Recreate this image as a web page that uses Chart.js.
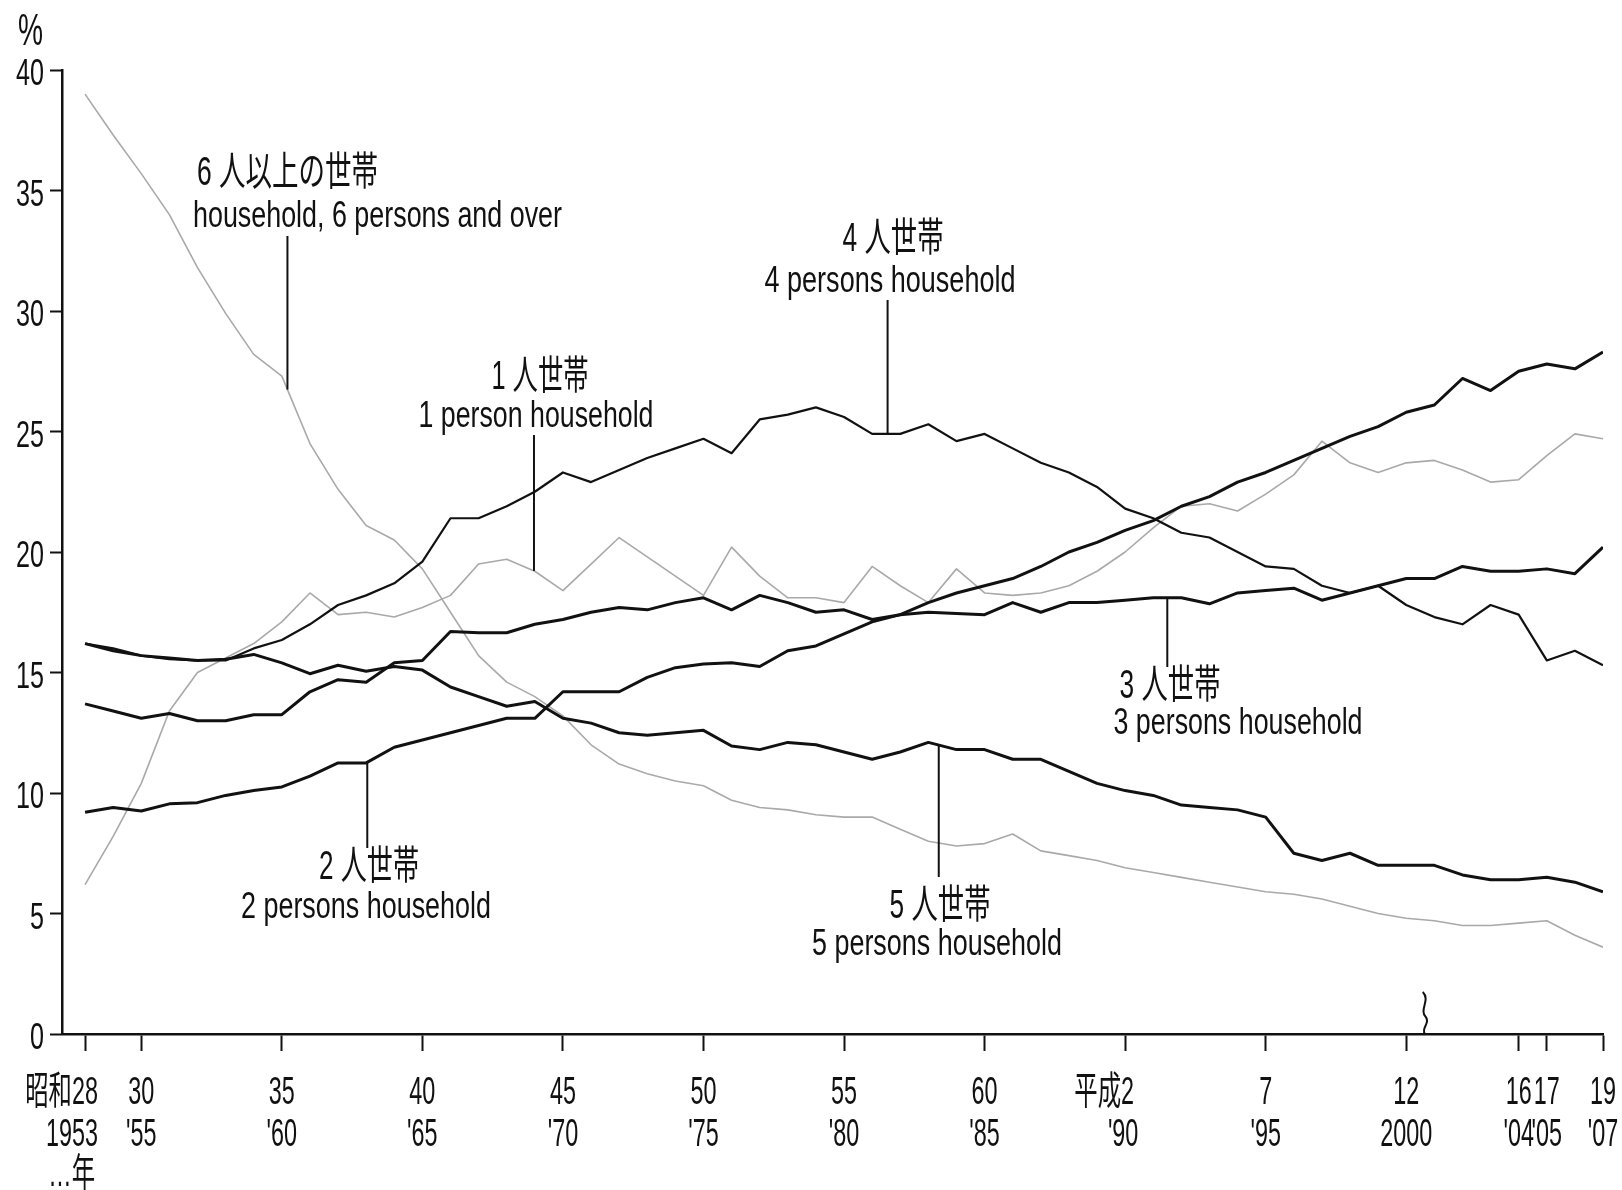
<!DOCTYPE html>
<html lang="ja">
<head>
<meta charset="utf-8">
<title>世帯人員別にみた世帯数の構成割合の年次推移</title>
<script src="https://cdn.jsdelivr.net/npm/chart.js@4.4.1/dist/chart.umd.min.js"></script>
<style>
  html, body { margin: 0; padding: 0; background: #fff; }
  #wrap { width: 1622px; height: 1190px; }
</style>
</head>
<body>
<div id="wrap"><canvas id="chart" width="1622" height="1190"></canvas></div>
<script>
// 世帯人員別 構成割合 (%), 昭和28(1953)〜平成19(2007)
const years = [1953, 1954, 1955, 1956, 1957, 1958, 1959, 1960, 1961, 1962,
               1963, 1964, 1965, 1966, 1967, 1968, 1969, 1970, 1971, 1972,
               1973, 1974, 1975, 1976, 1977, 1978, 1979, 1980, 1981, 1982,
               1983, 1984, 1985, 1986, 1987, 1988, 1989, 1990, 1991, 1992,
               1993, 1994, 1995, 1996, 1997, 1998, 1999, 2000, 2001, 2002,
               2003, 2004, 2005, 2006, 2007];

const onePerson = [6.2, 8.2, 10.4, 13.4, 15.0, 15.6, 16.2, 17.1, 18.3, 17.4,
                   17.5, 17.3, 17.7, 18.2, 19.5, 19.7, 19.2, 18.4, 19.5, 20.6,
                   19.8, 19.0, 18.2, 20.2, 19.0, 18.1, 18.1, 17.9, 19.4, 18.6,
                   17.9, 19.3, 18.3, 18.2, 18.3, 18.6, 19.2, 20.0, 21.0, 21.9,
                   22.0, 21.7, 22.4, 23.2, 24.6, 23.7, 23.3, 23.7, 23.8, 23.4,
                   22.9, 23.0, 24.0, 24.9, 24.7];

const twoPersons = [9.2, 9.4, 9.25, 9.55, 9.6, 9.9, 10.1, 10.25, 10.7, 11.25,
                    11.25, 11.9, 12.2, 12.5, 12.8, 13.1, 13.1, 14.2, 14.2, 14.2,
                    14.8, 15.2, 15.35, 15.4, 15.25, 15.9, 16.1, 16.6, 17.1, 17.4,
                    17.9, 18.3, 18.6, 18.9, 19.4, 20.0, 20.4, 20.9, 21.3, 21.9,
                    22.3, 22.9, 23.3, 23.8, 24.3, 24.8, 25.2, 25.8, 26.1, 27.2,
                    26.7, 27.5, 27.8, 27.6, 28.3];

const threePersons = [13.7, 13.4, 13.1, 13.3, 13.0, 13.0, 13.25, 13.25, 14.2, 14.7,
                      14.6, 15.4, 15.5, 16.7, 16.65, 16.65, 17.0, 17.2, 17.5, 17.7,
                      17.6, 17.9, 18.1, 17.6, 18.2, 17.9, 17.5, 17.6, 17.2, 17.4,
                      17.5, 17.45, 17.4, 17.9, 17.5, 17.9, 17.9, 18.0, 18.1, 18.1,
                      17.85, 18.3, 18.4, 18.5, 18.0, 18.3, 18.6, 18.9, 18.9, 19.4,
                      19.2, 19.2, 19.3, 19.1, 20.2];

const fourPersons = [16.2, 16.0, 15.7, 15.55, 15.5, 15.5, 16.0, 16.35, 17.0, 17.8,
                     18.2, 18.7, 19.6, 21.4, 21.4, 21.9, 22.5, 23.3, 22.9, 23.4,
                     23.9, 24.3, 24.7, 24.1, 25.5, 25.7, 26.0, 25.6, 24.9, 24.9,
                     25.3, 24.6, 24.9, 24.3, 23.7, 23.3, 22.7, 21.8, 21.4, 20.8,
                     20.6, 20.0, 19.4, 19.3, 18.6, 18.3, 18.6, 17.8, 17.3, 17.0,
                     17.8, 17.4, 15.5, 15.9, 15.3];

const fivePersons = [16.2, 15.9, 15.7, 15.6, 15.5, 15.55, 15.75, 15.4, 14.95, 15.3,
                     15.05, 15.25, 15.1, 14.4, 14.0, 13.6, 13.8, 13.1, 12.9, 12.5,
                     12.4, 12.5, 12.6, 11.95, 11.8, 12.1, 12.0, 11.7, 11.4, 11.7,
                     12.1, 11.8, 11.8, 11.4, 11.4, 10.9, 10.4, 10.1, 9.9, 9.5,
                     9.4, 9.3, 9.0, 7.5, 7.2, 7.5, 7.0, 7.0, 7.0, 6.6,
                     6.4, 6.4, 6.5, 6.3, 5.9];

const sixPlus = [39.0, 37.3, 35.7, 34.0, 31.8, 29.9, 28.2, 27.3, 24.5, 22.6,
                 21.1, 20.5, 19.3, 17.5, 15.7, 14.6, 14.0, 13.2, 12.0, 11.2,
                 10.8, 10.5, 10.3, 9.7, 9.4, 9.3, 9.1, 9.0, 9.0, 8.5,
                 8.0, 7.8, 7.9, 8.3, 7.6, 7.4, 7.2, 6.9, 6.7, 6.5,
                 6.3, 6.1, 5.9, 5.8, 5.6, 5.3, 5.0, 4.8, 4.7, 4.5,
                 4.5, 4.6, 4.7, 4.1, 3.6];

// 目盛
const tickYears   = [1953, 1955, 1960, 1965, 1970, 1975, 1980, 1985, 1990, 1995, 2000, 2004, 2005, 2007];
const tickEra     = ['昭和28', '30', '35', '40', '45', '50', '55', '60', '平成2', '7', '12', '16', '17', '19'];
const tickWestern = ['1953', "'55", "'60", "'65", "'70", "'75", "'80", "'85", "'90", "'95", '2000', "'04", "'05", "'07"];
const yTicks      = [0, 5, 10, 15, 20, 25, 30, 35, 40];

// 系列ラベル (引き出し線つき)
const notes = [
  { data: sixPlus,      year: 1960.2,  jp: '6 人以上の世帯', en: 'household, 6 persons and over',
    jpX: 197, jpY: 185, jpW: 181, enX: 193, enY: 227, enW: 369, align: 'left', lineTop: 236 },
  { data: fourPersons,  year: 1981.55, jp: '4 人世帯', en: '4 persons household',
    jpX: 893, jpY: 251, jpW: 101, enX: 890, enY: 292, enW: 251, align: 'center', lineTop: 300 },
  { data: onePerson,    year: 1968.97, jp: '1 人世帯', en: '1 person household',
    jpX: 540, jpY: 389, jpW: 97, enX: 536, enY: 427, enW: 235, align: 'center', lineTop: 435 },
  { data: threePersons, year: 1991.5,  jp: '3 人世帯', en: '3 persons household',
    jpX: 1170, jpY: 698, jpW: 101, enX: 1238, enY: 734, enW: 249, align: 'center', lineBottom: 667 },
  { data: twoPersons,   year: 1963.04, jp: '2 人世帯', en: '2 persons household',
    jpX: 369, jpY: 879, jpW: 100, enX: 366, enY: 918, enW: 250, align: 'center', lineBottom: 848 },
  { data: fivePersons,  year: 1983.37, jp: '5 人世帯', en: '5 persons household',
    jpX: 940, jpY: 918, jpW: 101, enX: 937, enY: 955, enW: 250, align: 'center', lineBottom: 877 },
];

const FONT = '"Liberation Sans", "Noto Sans CJK JP", sans-serif';
const INK = '#111';

function pts(arr) { return years.map((yr, i) => ({ x: yr, y: arr[i] })); }

function valueAt(arr, yr) {
  const i = Math.min(Math.floor(yr - years[0]), years.length - 2);
  const t = yr - years[i];
  return arr[i] + (arr[i + 1] - arr[i]) * t;
}

// 縦長の細い字体を再現するため横方向だけ縮める
function narrowText(ctx, str, x, y, size, sx, align) {
  ctx.save();
  ctx.font = size + 'px ' + FONT;
  ctx.translate(x, y);
  ctx.scale(sx, 1);
  ctx.textAlign = align || 'center';
  ctx.textBaseline = 'alphabetic';
  ctx.fillText(str, 0, 0);
  ctx.restore();
}

function fitText(ctx, str, x, y, size, width, align) {
  ctx.font = size + 'px ' + FONT;
  const w = ctx.measureText(str).width;
  narrowText(ctx, str, x, y, size, width / w, align);
}

const labelPlugin = {
  id: 'labels',
  afterDraw(chart) {
    const ctx = chart.ctx;
    const xs = chart.scales.x, ys = chart.scales.y;
    ctx.save();
    ctx.fillStyle = INK;
    ctx.strokeStyle = INK;

    // y 軸目盛ラベル
    yTicks.forEach(v => narrowText(ctx, String(v), 44, ys.getPixelForValue(v) + 15, 37, 0.68, 'right'));
    narrowText(ctx, '%', 18, 45, 44, 0.64, 'left');

    // x 軸目盛ラベル
    tickYears.forEach((yr, i) => {
      const px = xs.getPixelForValue(yr);
      if (i === 0) {
        narrowText(ctx, tickEra[i], px + 13, 1104, 39, 0.6, 'right');
        narrowText(ctx, tickWestern[i], px + 13, 1146, 39, 0.6, 'right');
        narrowText(ctx, '…年', px + 10, 1186, 39, 0.6, 'right');
      } else if (tickEra[i] === '平成2') {
        narrowText(ctx, tickEra[i], px + 9, 1104, 39, 0.6, 'right');
        narrowText(ctx, tickWestern[i], px - 2, 1146, 39, 0.6, 'center');
      } else {
        narrowText(ctx, tickEra[i], px, 1104, 39, 0.6, 'center');
        narrowText(ctx, tickWestern[i], px, 1146, 39, 0.6, 'center');
      }
    });

    // 系列名と引き出し線
    ctx.lineWidth = 2;
    notes.forEach(n => {
      fitText(ctx, n.jp, n.jpX, n.jpY, 40, n.jpW, n.align);
      fitText(ctx, n.en, n.enX, n.enY, 37, n.enW, n.align);
      const px = xs.getPixelForValue(n.year);
      const py = ys.getPixelForValue(valueAt(n.data, n.year));
      ctx.beginPath();
      if (n.lineTop !== undefined) { ctx.moveTo(px, n.lineTop); ctx.lineTo(px, py); }
      else { ctx.moveTo(px, py); ctx.lineTo(px, n.lineBottom); }
      ctx.stroke();
    });

    // 平成12/13 の間の不連続記号
    const bx = xs.getPixelForValue(2000.66);
    ctx.beginPath();
    ctx.moveTo(bx - 2, 992);
    ctx.bezierCurveTo(bx + 6, 1000, bx - 6, 1010, bx + 1, 1017);
    ctx.bezierCurveTo(bx + 6, 1023, bx - 4, 1028, bx, 1034);
    ctx.stroke();

    ctx.restore();
  }
};

const black = (label, data, w) => ({
  label, data: pts(data), borderColor: INK, borderWidth: w,
  borderJoinStyle: 'round', pointRadius: 0, tension: 0, fill: false,
});
const grey = (label, data) => ({
  label, data: pts(data), borderColor: '#a9a9a9', borderWidth: 1.6,
  borderJoinStyle: 'round', pointRadius: 0, tension: 0, fill: false,
});

new Chart(document.getElementById('chart'), {
  type: 'line',
  data: {
    datasets: [
      black('2人世帯', twoPersons, 3),
      black('3人世帯', threePersons, 3),
      black('5人世帯', fivePersons, 3),
      black('4人世帯', fourPersons, 2.2),
      grey('1人世帯', onePerson),
      grey('6人以上の世帯', sixPlus),
    ]
  },
  options: {
    responsive: false,
    animation: false,
    devicePixelRatio: 1,
    layout: { padding: { left: 0, right: 19, top: 70, bottom: 0 } },
    plugins: { legend: { display: false }, tooltip: { enabled: false } },
    scales: {
      x: {
        type: 'linear', min: 1952.18, max: 2007,
        afterBuildTicks: s => { s.ticks = tickYears.map(v => ({ value: v })); },
        afterFit: s => { s.height = 156; },
        ticks: { display: false },
        grid: { drawOnChartArea: false, drawTicks: true, tickLength: 17, tickWidth: 2, tickColor: INK },
        border: { display: true, color: INK, width: 2.5 },
      },
      y: {
        type: 'linear', min: 0, max: 40,
        afterBuildTicks: s => { s.ticks = yTicks.map(v => ({ value: v })); },
        afterFit: s => { s.width = 62; },
        ticks: { display: false },
        grid: { drawOnChartArea: false, drawTicks: true, tickLength: 12, tickWidth: 2, tickColor: INK },
        border: { display: true, color: INK, width: 2.5 },
      }
    }
  },
  plugins: [labelPlugin]
});
</script>
</body>
</html>
